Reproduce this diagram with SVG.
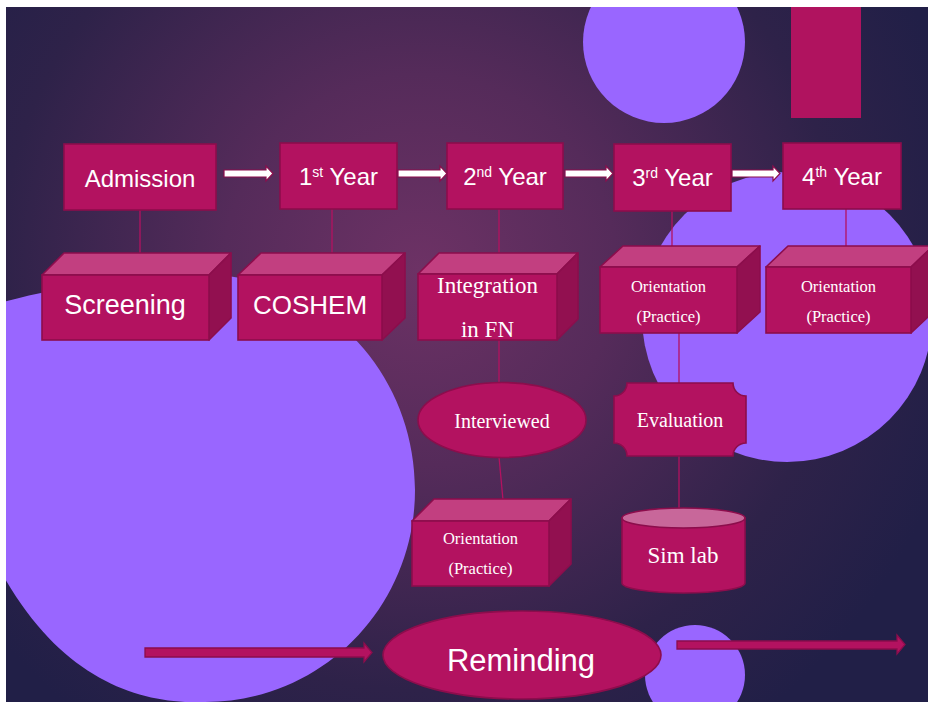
<svg xmlns="http://www.w3.org/2000/svg" width="928" height="702" viewBox="0 0 928 702">
<defs>
<radialGradient id="bg" gradientUnits="userSpaceOnUse" cx="420" cy="270" r="560">
<stop offset="0" stop-color="#6d3265"/>
<stop offset="0.35" stop-color="#552b5a"/>
<stop offset="0.75" stop-color="#2e2249"/>
<stop offset="1" stop-color="#211f47"/>
</radialGradient>
<clipPath id="slide"><rect x="6" y="7" width="922" height="695"/></clipPath>
<style>
.deco{fill:#9966ff}
.box{fill:#b31260;stroke:#8c0d4c;stroke-width:1.6}
.top{fill:#c23f80;stroke:#8c0d4c;stroke-width:1.6;stroke-linejoin:round}
.side{fill:#921050;stroke:#8c0d4c;stroke-width:1.6;stroke-linejoin:round}
.conn{stroke:#b31260;stroke-width:1.3;fill:none}
.warr{fill:#ffffff;stroke:#8c0d4c;stroke-width:1.2}
.marr{fill:#b31260;stroke:#8c0d4c;stroke-width:1.3}
.sans{font-family:"Liberation Sans",Arial,sans-serif;fill:#ffffff;text-anchor:middle}
.serif{font-family:"Liberation Serif","Times New Roman",serif;fill:#ffffff;text-anchor:middle}
</style>
</defs>
<rect x="0" y="0" width="928" height="702" fill="#ffffff"/>
<g clip-path="url(#slide)">
<rect x="6" y="7" width="922" height="695" fill="url(#bg)"/>
<path class="deco" d="M 0 303 C 60 286 140 275 205 275 C 322 275 415 371 415 490 C 415 607 322 702 205 702 C 140 705 60 680 0 570 Z"/>
<circle class="deco" cx="664" cy="42" r="81"/>
<circle class="deco" cx="787" cy="317" r="145"/>
<circle class="deco" cx="695" cy="675" r="50"/>
<rect x="791" y="7" width="70" height="111" fill="#b0135f"/>
</g>
<g id="connectors">
<line class="conn" x1="140" y1="210" x2="140" y2="254"/>
<line class="conn" x1="332" y1="209" x2="332" y2="254"/>
<line class="conn" x1="499" y1="209" x2="499" y2="254"/>
<line class="conn" x1="499" y1="340" x2="499" y2="384"/>
<line class="conn" x1="499" y1="457" x2="503" y2="500"/>
<line class="conn" x1="672" y1="211" x2="672" y2="247"/>
<line class="conn" x1="679" y1="333" x2="679" y2="384"/>
<line class="conn" x1="679" y1="456" x2="679" y2="511"/>
<line class="conn" x1="846" y1="209" x2="846" y2="247"/>
<polygon class="warr" points="224,170 266,170 266,166 273,173.5 266,181 266,177 224,177"/>
<polygon class="warr" points="398,170 440,170 440,166 447,173.5 440,181 440,177 398,177"/>
<polygon class="warr" points="565,170 606,170 606,166 613,173.5 606,181 606,177 565,177"/>
<polygon class="warr" points="732,170 773,170 773,166 780,173.5 773,181 773,177 732,177"/>
<polygon class="marr" points="145,648 364,648 364,643 372,652.5 364,662 364,657 145,657"/>
<polygon class="marr" points="677,641 897,641 897,635 905,644.5 897,654 897,649 677,649"/>
</g>
<g id="admission">
<rect class="box" x="64" y="144" width="152" height="66"/>
<text class="sans" x="140" y="187" font-size="24">Admission</text>
</g>
<g id="year1">
<rect class="box" x="280" y="143" width="117" height="66"/>
<text class="sans" x="338.5" y="185" font-size="24">1<tspan font-size="14" dy="-8">st</tspan><tspan dy="8"> Year</tspan></text>
</g>
<g id="year2">
<rect class="box" x="447" y="143" width="116" height="66"/>
<text class="sans" x="505" y="185" font-size="24">2<tspan font-size="14" dy="-8">nd</tspan><tspan dy="8"> Year</tspan></text>
</g>
<g id="year3">
<rect class="box" x="614" y="144" width="117" height="67"/>
<text class="sans" x="672.5" y="186" font-size="24">3<tspan font-size="14" dy="-8">rd</tspan><tspan dy="8"> Year</tspan></text>
</g>
<g id="year4">
<rect class="box" x="783" y="143" width="118" height="66"/>
<text class="sans" x="842" y="185" font-size="24">4<tspan font-size="14" dy="-8">th</tspan><tspan dy="8"> Year</tspan></text>
</g>
<g id="screening">
<polygon class="top" points="42,275 64,253 231,253 209,275"/>
<polygon class="side" points="209,275 231,253 231,318 209,340"/>
<rect class="box" x="42" y="275" width="167" height="65"/>
<text class="sans" x="125" y="314" font-size="27">Screening</text>
</g>
<g id="coshem">
<polygon class="top" points="238,275 261,253 405,253 382,275"/>
<polygon class="side" points="382,275 405,253 405,318 382,340"/>
<rect class="box" x="238" y="275" width="144" height="65"/>
<text class="sans" x="310" y="314" font-size="26">COSHEM</text>
</g>
<g id="integration">
<polygon class="top" points="418,274 439,253 578,253 557,274"/>
<polygon class="side" points="557,274 578,253 578,319 557,340"/>
<rect class="box" x="418" y="274" width="139" height="66"/>
<text class="serif" x="487.5" y="293" font-size="23">Integration</text>
<text class="serif" x="487.5" y="337" font-size="23">in FN</text>
</g>
<g id="orientation3">
<polygon class="top" points="600,267 623,246 760,246 737,267"/>
<polygon class="side" points="737,267 760,246 760,312 737,333"/>
<rect class="box" x="600" y="267" width="137" height="66"/>
<text class="serif" x="668.5" y="292" font-size="16.5">Orientation</text>
<text class="serif" x="668.5" y="322" font-size="16.5">(Practice)</text>
</g>
<g id="orientation4">
<polygon class="top" points="766,267 788,246 933,246 911,267"/>
<polygon class="side" points="911,267 933,246 933,312 911,333"/>
<rect class="box" x="766" y="267" width="145" height="66"/>
<text class="serif" x="838.5" y="292" font-size="16.5">Orientation</text>
<text class="serif" x="838.5" y="322" font-size="16.5">(Practice)</text>
</g>
<g id="interviewed">
<ellipse class="box" cx="502" cy="420" rx="84" ry="37.5"/>
<text class="serif" x="502" y="428" font-size="20">Interviewed</text>
</g>
<g id="orientation2">
<polygon class="top" points="412,521 434,499 571,499 549,521"/>
<polygon class="side" points="549,521 571,499 571,564 549,586"/>
<rect class="box" x="412" y="521" width="137" height="65"/>
<text class="serif" x="480.5" y="544" font-size="16.5">Orientation</text>
<text class="serif" x="480.5" y="574" font-size="16.5">(Practice)</text>
</g>
<g id="evaluation">
<path class="box" d="M 627 383 L 733 383 A 13 13 0 0 0 746 396 L 746 443 A 13 13 0 0 0 733 456 L 627 456 A 13 13 0 0 0 614 443 L 614 396 A 13 13 0 0 0 627 383 Z"/>
<text class="serif" x="680" y="427" font-size="20">Evaluation</text>
</g>
<g id="simlab">
<path class="box" d="M 622 518 L 622 583 A 61.5 10 0 0 0 745 583 L 745 518 Z"/>
<ellipse cx="683.5" cy="518" rx="61.5" ry="10" fill="#c8679a" stroke="#8c0d4c" stroke-width="1.6"/>
<text class="serif" x="683" y="563" font-size="23">Sim lab</text>
</g>
<g id="reminding">
<ellipse class="box" cx="522" cy="655" rx="139" ry="44"/>
<text class="sans" x="521" y="671" font-size="31">Reminding</text>
</g>
</svg>
